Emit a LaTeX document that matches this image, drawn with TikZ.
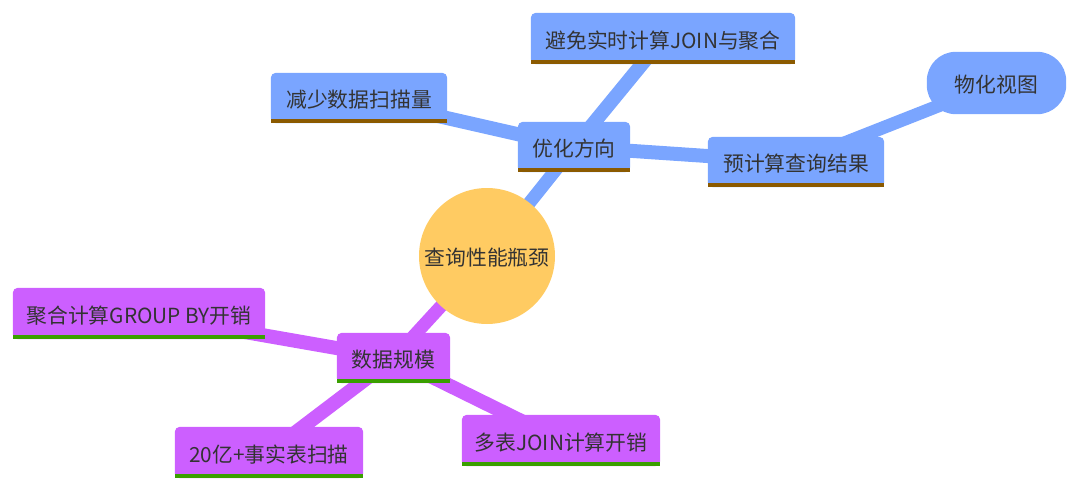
\documentclass[tikz,border=0pt]{standalone}
\usepackage{fontspec}
\setmainfont{Noto Sans CJK SC}
\definecolor{mmblue}{RGB}{122,165,255}
\definecolor{mmbrown}{RGB}{139,90,0}
\definecolor{mmpurple}{RGB}{204,95,255}
\definecolor{mmgreen}{RGB}{58,159,0}
\definecolor{mmroot}{RGB}{255,203,98}
\definecolor{mmtext}{RGB}{51,51,51}
\pgfdeclarelayer{edges}
\pgfdeclarelayer{boxes}
\pgfsetlayers{edges,boxes,main}
\tikzset{
  mmtxt/.style={inner sep=0pt, text=mmtext, font=\fontsize{20.8}{24}\selectfont, anchor=center},
  mmlabel/.style={mmtxt, yshift=-2pt},
  mmedge/.style={line width=#1, line cap=butt},
}
\newcommand{\mmbox}[5]{% name, x, y, w, h
  \node[mmtxt, minimum width=#4pt, minimum height=#5pt] (#1) at (#2,#3) {};
}
\newcommand{\mmfill}[3]{% name, fill, line
  \fill[#2, rounded corners=5pt] (#1.south west) rectangle (#1.north east);
  \fill[#2] (#1.south west) rectangle ([yshift=-10pt]#1.east);
  \fill[#3] (#1.south west) rectangle ([yshift=4pt]#1.south east);
}
\begin{document}
\begin{tikzpicture}[x=1pt,y=-1pt]
\useasboundingbox (0,0) rectangle (1080,490);
% nodes (geometry)
\node[circle, minimum size=136pt, inner sep=0pt] (root) at (487,256) {};
\mmbox{opt}{574}{147}{112}{50}
\mmbox{avoid}{663}{38.5}{264}{51}
\mmbox{reduce}{359}{98}{176}{50}
\mmbox{pre}{796}{162}{176}{50}
\node[inner sep=0pt, minimum width=139pt, minimum height=62pt] (mv) at (996.5,83) {};
\mmbox{scale}{393.5}{358}{113}{50}
\mmbox{agg}{139}{313.5}{252}{51}
\mmbox{fact}{269}{452.5}{188}{51}
\mmbox{join}{561}{440.5}{198}{51}
% edges
\begin{pgfonlayer}{edges}
  \draw[mmblue, mmedge=13pt] (root.center) -- (opt.center);
  \draw[mmblue, mmedge=14pt] (opt.center) -- (avoid.center);
  \draw[mmblue, mmedge=14pt] (opt.center) -- (reduce.center);
  \draw[mmblue, mmedge=14pt] (opt.center) -- (pre.center);
  \draw[mmblue, mmedge=13pt] (pre.center) -- (mv.center);
  \draw[mmpurple, mmedge=13pt] (root.center) -- (scale.center);
  \draw[mmpurple, mmedge=14pt] (scale.center) -- (agg.center);
  \draw[mmpurple, mmedge=14pt] (scale.center) -- (fact.center);
  \draw[mmpurple, mmedge=14pt] (scale.center) -- (join.center);
\end{pgfonlayer}
\begin{pgfonlayer}{boxes}
  \fill[mmroot] (root.center) circle (68pt);
  \mmfill{opt}{mmblue}{mmbrown}
  \mmfill{avoid}{mmblue}{mmbrown}
  \mmfill{reduce}{mmblue}{mmbrown}
  \mmfill{pre}{mmblue}{mmbrown}
  \fill[mmblue, rounded corners=29pt] (mv.south west) rectangle (mv.north east);
  \mmfill{scale}{mmpurple}{mmgreen}
  \mmfill{agg}{mmpurple}{mmgreen}
  \mmfill{fact}{mmpurple}{mmgreen}
  \mmfill{join}{mmpurple}{mmgreen}
\end{pgfonlayer}
% labels
\node[mmlabel] at (root.center) {查询性能瓶颈};
\node[mmlabel] at (opt.center) {优化方向};
\node[mmlabel] at (avoid.center) {避免实时计算JOIN与聚合};
\node[mmlabel] at (reduce.center) {减少数据扫描量};
\node[mmlabel] at (pre.center) {预计算查询结果};
\node[mmlabel] at (mv.center) {物化视图};
\node[mmlabel] at (scale.center) {数据规模};
\node[mmlabel] at (agg.center) {聚合计算GROUP BY开销};
\node[mmlabel] at (fact.center) {20亿+事实表扫描};
\node[mmlabel] at (join.center) {多表JOIN计算开销};
\end{tikzpicture}
\end{document}
